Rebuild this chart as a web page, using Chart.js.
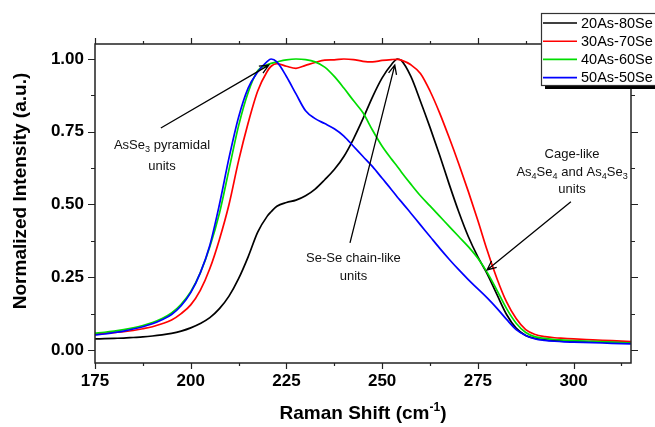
<!DOCTYPE html>
<html>
<head>
<meta charset="utf-8">
<script src="https://cdn.jsdelivr.net/npm/chart.js@4.4.0/dist/chart.umd.min.js"></script>
<style>
html,body{margin:0;padding:0;background:#fff;}
#wrap{width:655px;height:427px;}
</style>
</head>
<body>
<div id="wrap"><canvas id="c" width="655" height="427"></canvas></div>
<script>
// ---------- data ----------
const ramanShift = [175,177.5,180,182.5,185,187.5,190,192.5,195,197.5,200,202.5,205,207.5,210,212.5,215,217.5,220,221,222.5,225,227.5,230,232.5,235,237.5,240,242.5,245,247.5,250,252.5,254,255,257.5,260,262.5,265,267.5,270,272.5,275,277.5,280,282.5,285,287.5,290,292.5,295,297.5,300,305,310,315];
const seriesNames = ['20As-80Se','30As-70Se','40As-60Se','50As-50Se'];
const seriesColors = ['#000000','#ff0000','#00dd00','#0000ff'];
const as20se80 = [.038,.039,.040,.041,.043,.045,.048,.052,.057,.065,.076,.091,.111,.142,.185,.245,.32,.405,.46,.475,.494,.507,.515,.53,.553,.585,.62,.665,.725,.795,.87,.935,.982,1.0,.995,.94,.855,.765,.67,.57,.475,.39,.32,.26,.19,.122,.075,.05,.04,.035,.032,.031,.03,.028,.026,.025];
const as30se70 = [.055,.057,.06,.063,.067,.073,.08,.09,.103,.125,.155,.205,.28,.38,.5,.65,.78,.89,.958,.975,.984,.975,.968,.978,.988,.996,.997,1.0,.998,.992,.99,.995,.998,.999,.996,.98,.95,.89,.815,.73,.64,.545,.445,.34,.245,.165,.108,.07,.053,.046,.042,.04,.038,.035,.032,.029];
const as40se60 = [.058,.061,.065,.07,.076,.084,.094,.108,.127,.157,.2,.265,.355,.47,.62,.77,.885,.96,.98,.985,.99,.997,1.0,.998,.99,.972,.94,.9,.857,.815,.755,.70,.655,.63,.612,.57,.53,.495,.46,.425,.39,.355,.315,.265,.205,.142,.092,.06,.045,.04,.036,.034,.032,.03,.027,.024];
const as50se50 = [.052,.055,.06,.065,.072,.08,.09,.104,.122,.152,.197,.265,.36,.5,.66,.8,.9,.955,.992,1.0,.99,.94,.88,.822,.795,.778,.76,.735,.70,.665,.63,.59,.55,.525,.51,.47,.43,.39,.35,.312,.276,.242,.21,.178,.143,.105,.07,.05,.038,.033,.03,.028,.027,.025,.023,.021];
const xTickLabels = [175,200,225,250,275,300];
const yTickLabels = [0,0.25,0.5,0.75,1.0];

// annotations in data coordinates
const annotations = [
  {from:[192.2,0.763], to:[220.4,0.979], lines:[[['AsSe',0],['3',1],[' pyramidal',0]],[['units',0]]], at:[192.5,0.708], dy:0.072},
  {from:[241.6,0.368], to:[253.3,0.979], lines:[[['Se-Se chain-like',0]],[['units',0]]], at:[242.5,0.32], dy:0.062},
  {from:[299.3,0.509], to:[277.4,0.275], lines:[[['Cage-like',0]],[['As',0],['4',1],['Se',0],['4',1],[' and As',0],['4',1],['Se',0],['3',1]],[['units',0]]], at:[299.6,0.676], dy:0.06}
];

const allSeries = [as20se80, as30se70, as40se60, as50se50];
const datasets = allSeries.map((arr,i)=>({
  label: seriesNames[i],
  data: ramanShift.map((x,j)=>({x:x,y:arr[j]})),
  borderColor: seriesColors[i],
  backgroundColor: seriesColors[i],
  borderWidth: 1.7,
  pointRadius: 0,
  cubicInterpolationMode: 'monotone',
  fill: false,
  order: 4-i
}));

function drawRich(ctx, segs, cx, cy, size, family){
  const sub = size*0.7;
  let w = 0;
  segs.forEach(s=>{ ctx.font = (s[1]?sub:size)+'px '+family; w += ctx.measureText(s[0]).width; });
  let x = cx - w/2;
  ctx.textBaseline = 'alphabetic'; ctx.textAlign = 'left';
  segs.forEach(s=>{
    ctx.font = (s[1]?sub:size)+'px '+family;
    const off = s[1]===1 ? size*0.22 : (s[1]===2 ? -size*0.42 : 0);
    ctx.fillText(s[0], x, cy + off);
    x += ctx.measureText(s[0]).width;
  });
}

const decor = {
  id:'decor',
  afterDraw(chart){
    const {ctx, chartArea:a, scales:{x,y}} = chart;
    ctx.save();
    ctx.strokeStyle = '#222';
    ctx.lineWidth = 1.5;
    ctx.strokeRect(a.left, a.top, a.right-a.left, a.bottom-a.top);
    ctx.lineWidth = 1.2;
    ctx.beginPath();
    for(let v=175; v<=315.001; v+=12.5){
      const px = Math.round(x.getPixelForValue(v))+0.5;
      const L = (v%25===0)?6:3;
      ctx.moveTo(px,a.bottom); ctx.lineTo(px,a.bottom+L);
      ctx.moveTo(px,a.top); ctx.lineTo(px,a.top-L);
    }
    for(let v=0; v<=1.0001; v+=0.125){
      const py = Math.round(y.getPixelForValue(v))+0.5;
      const L = (Math.abs(v*4-Math.round(v*4))<1e-6)?7:4;
      ctx.moveTo(a.left,py); ctx.lineTo(a.left-L,py);
      ctx.moveTo(a.right,py); ctx.lineTo(a.right+L,py);
    }
    ctx.stroke();

    // axis titles
    ctx.fillStyle = '#000';
    ctx.font = 'bold 19px "Liberation Sans", Arial, sans-serif';
    ctx.textAlign = 'center'; ctx.textBaseline = 'middle';
    ctx.save();
    ctx.translate(21, 191);
    ctx.rotate(-Math.PI/2);
    ctx.fillText('Normalized Intensity (a.u.)', 0, 0);
    ctx.restore();
    // x title with superscript
    const base = 'Raman Shift (cm', sup = '-1', end = ')';
    ctx.font = 'bold 19px "Liberation Sans", Arial, sans-serif';
    const w1 = ctx.measureText(base).width, w3 = ctx.measureText(end).width;
    ctx.font = 'bold 12px "Liberation Sans", Arial, sans-serif';
    const w2 = ctx.measureText(sup).width;
    let sx = (a.left+a.right)/2 - (w1+w2+w3)/2;
    const by = 419;
    ctx.textAlign = 'left'; ctx.textBaseline = 'alphabetic';
    ctx.font = 'bold 19px "Liberation Sans", Arial, sans-serif';
    ctx.fillText(base, sx, by); sx += w1;
    ctx.font = 'bold 12px "Liberation Sans", Arial, sans-serif';
    ctx.fillText(sup, sx, by-8); sx += w2;
    ctx.font = 'bold 19px "Liberation Sans", Arial, sans-serif';
    ctx.fillText(end, sx, by);

    // annotations
    ctx.strokeStyle = '#000'; ctx.lineWidth = 1.3;
    annotations.forEach(an=>{
      const x0 = x.getPixelForValue(an.from[0]), y0 = y.getPixelForValue(an.from[1]);
      const x1 = x.getPixelForValue(an.to[0]), y1 = y.getPixelForValue(an.to[1]);
      ctx.beginPath(); ctx.moveTo(x0,y0); ctx.lineTo(x1,y1);
      const ang = Math.atan2(y1-y0, x1-x0), hl = 10, ha = 0.42;
      ctx.moveTo(x1 - hl*Math.cos(ang-ha), y1 - hl*Math.sin(ang-ha)); ctx.lineTo(x1,y1);
      ctx.lineTo(x1 - hl*Math.cos(ang+ha), y1 - hl*Math.sin(ang+ha));
      ctx.stroke();
      ctx.fillStyle = '#111';
      an.lines.forEach((ln,k)=>{
        const cx = x.getPixelForValue(an.at[0]);
        const cy = y.getPixelForValue(an.at[1]-k*an.dy) + 5;
        drawRich(ctx, ln, cx, cy, 13, '"Liberation Sans", Arial, sans-serif');
      });
    });

    // legend
    const lx = 541, ly = 13, lw = 125, lh = 72;
    ctx.fillStyle = '#000';
    ctx.fillRect(lx+4, ly+lh, lw, 4);
    ctx.fillStyle = '#fff';
    ctx.fillRect(lx, ly, lw, lh);
    ctx.strokeStyle = '#333'; ctx.lineWidth = 1.2;
    ctx.strokeRect(lx+0.5, ly+0.5, lw, lh);
    ctx.font = '14.5px "Liberation Sans", Arial, sans-serif';
    ctx.textAlign = 'left'; ctx.textBaseline = 'middle';
    seriesNames.forEach((nm,i)=>{
      const ry = ly + 10 + i*18.2;
      ctx.strokeStyle = seriesColors[i]; ctx.lineWidth = 1.6;
      ctx.beginPath(); ctx.moveTo(543, ry); ctx.lineTo(577, ry); ctx.stroke();
      ctx.fillStyle = '#000';
      ctx.fillText(nm, 581, ry+0.5);
    });
    ctx.restore();
  }
};

new Chart(document.getElementById('c'), {
  type:'line',
  data:{datasets:datasets},
  options:{
    responsive:false,
    animation:false,
    events:[],
    layout:{padding:{top:44,right:24,left:0,bottom:0}},
    plugins:{legend:{display:false}, tooltip:{enabled:false}},
    scales:{
      x:{
        type:'linear', min:175, max:315,
        grid:{display:false, drawTicks:false}, border:{display:false},
        afterBuildTicks:(s)=>{ s.ticks = xTickLabels.map(v=>({value:v})); },
        afterFit:(s)=>{ s.height = 64; },
        ticks:{color:'#000', padding:8, maxRotation:0, autoSkip:false,
               font:{family:'"Liberation Sans", Arial, sans-serif', size:17, weight:'bold'},
               callback:(v)=>String(v)}
      },
      y:{
        type:'linear', min:-0.0447, max:1.0515,
        grid:{display:false, drawTicks:false}, border:{display:false},
        afterBuildTicks:(s)=>{ s.ticks = yTickLabels.map(v=>({value:v})); },
        afterFit:(s)=>{ s.width = 95; },
        ticks:{color:'#000', padding:11, autoSkip:false,
               font:{family:'"Liberation Sans", Arial, sans-serif', size:17, weight:'bold'},
               callback:(v)=>Number(v).toFixed(2)}
      }
    }
  },
  plugins:[decor]
});
</script>
</body>
</html>
